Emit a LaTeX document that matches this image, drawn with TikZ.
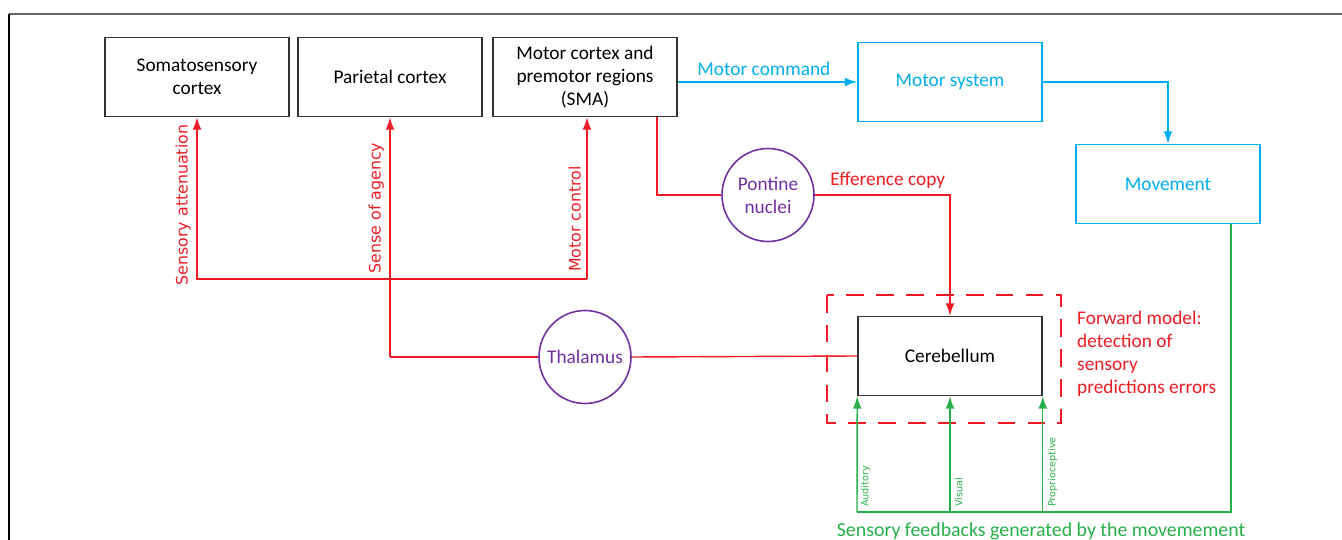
\documentclass[tikz,border=0pt]{standalone}
\usepackage{fontspec}
\setmainfont{Carlito}
\newfontfamily\vlabel{DejaVu Sans}
\usetikzlibrary{arrows.meta,shapes.geometric}

\definecolor{cblue}{RGB}{0,174,239}
\definecolor{cred}{RGB}{237,28,36}
\definecolor{cpurple}{RGB}{112,48,160}
\definecolor{cgreen}{RGB}{40,175,75}

\begin{document}
\begin{tikzpicture}[x=0.02cm, y=-0.02cm,
  every node/.style={font=\fontsize{11}{13}\selectfont, align=center},
  area/.style={draw=black!80, line width=0.9pt, minimum width=3.68cm, minimum height=1.58cm, inner sep=2pt},
  motor/.style={area, draw=cblue, text=cblue},
  nucleus/.style={draw=cpurple, ellipse, line width=0.9pt, text=cpurple, minimum width=1.84cm, minimum height=1.86cm, inner sep=0pt},
  redline/.style={draw=cred, line width=0.8pt},
  blueline/.style={draw=cblue, line width=0.8pt},
  greenline/.style={draw=cgreen, line width=0.8pt},
  tip/.style={-{Latex[length=7pt, width=5pt]}},
  sidelabel/.style={rotate=90, text=cred, font=\vlabel\fontsize{9}{10}\selectfont},
  sense/.style={rotate=90, text=cgreen, font=\vlabel\fontsize{5.5}{6}\selectfont, inner sep=1pt}
]
\useasboundingbox (0,0) rectangle (1342,540);
\draw[black!60, line width=0.8pt] (9,14) -- (1342,14);
\draw[black, line width=0.8pt] (9,14) -- (9,540);

% cortex boxes
\node[area] (soma) at (197,77) {Somatosensory\\cortex};
\node[area] (parietal) at (390,77) {Parietal cortex};
\node[area] (mcortex) at (585,77) {Motor cortex and\\premotor regions\\(SMA)};
\node[motor] (msystem) at (950,82) {Motor system};
\node[motor] (movement) at (1168,184) {Movement};
\node[area] (cereb) at (950,356) {Cerebellum};
\node[nucleus] (pontine) at (768,195) {Pontine\\nuclei};
\node[nucleus, inner xsep=-8pt] (thalamus) at (585,357) {Thalamus};
\draw[cred, line width=0.9pt, dash pattern=on 10pt off 7pt] (827,295) rectangle (1061,423);

% motor pathway
\draw[blueline, tip] (mcortex.east |- msystem) -- node[above, text=cblue, pos=0.48] {Motor command} (msystem.west);
\draw[blueline, tip] (msystem.east) -| (movement.north);

% efference copy
\draw[redline] (mcortex.south -| 657,0) |- (pontine.west);
\draw[redline, tip] (pontine.east) -| node[pos=0.27, above, text=cred] {Efference copy} (cereb.north);
\node[text=cred, align=left, anchor=north west] (fwd) at (1071,305) {Forward model:\\detection of\\sensory\\predictions errors};

% red feedback to cortex
\coordinate (fb) at (587,279);
\draw[redline, tip] (fb) -| (soma.south);
\draw[redline, tip] (fb) -- (mcortex.south -| fb);
\coordinate (agency) at (390,357);
\draw[redline, tip] (agency) -- (parietal.south);
\draw[redline] (agency) -- (thalamus.west);
\draw[redline] (thalamus.east) -- (cereb.west);
\node[sidelabel, anchor=south] (attlab) at (197,205) {Sensory attenuation};
\node[sidelabel, anchor=south] (aglab) at (390,208) {Sense of agency};
\node[sidelabel, anchor=south] (mclab) at (587,219) {Motor control};

% sensory feedback
\coordinate (fbase) at (1231,512);
\draw[greenline] (movement.south -| fbase) -- (fbase) -- (857,512);
\draw[greenline, tip] (857,512) -- (cereb.south west);
\draw[greenline, tip] (cereb.south |- fbase) -- (cereb.south);
\draw[greenline, tip] (cereb.south east |- fbase) -- (cereb.south east);
\node[sense, anchor=north west] (aud) at (859,509) {Auditory};
\node[sense, anchor=north west] (vis) at (953,509) {Visual};
\node[sense, anchor=north west] (prop) at (1046,509) {Proprioceptive};
\node[text=cgreen, font=\fontsize{11.3}{13}\selectfont] (feedlab) at (1041,531) {Sensory feedbacks generated by the movemement};
\end{tikzpicture}
\end{document}
